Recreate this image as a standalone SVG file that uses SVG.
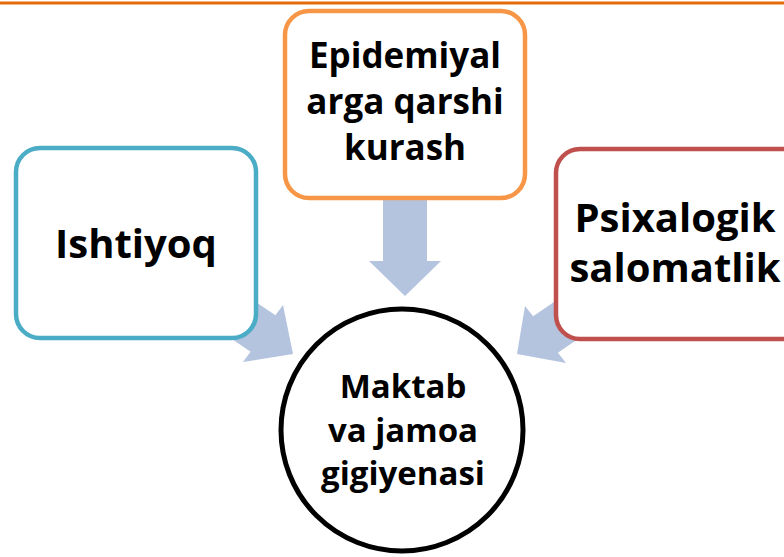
<svg xmlns="http://www.w3.org/2000/svg" width="784" height="557" viewBox="0 0 784 557">
<style>
.t{font-family:"Open Sans","Noto Sans","DejaVu Sans",sans-serif;font-weight:bold;fill:#000;text-anchor:middle}
.box{fill:#fff;stroke-width:4.5}
.arr{fill:#B4C3DE}
</style>
<rect width="784" height="557" fill="#fff"/>
<line x1="0" y1="3" x2="784" y2="3" stroke="#E46C0A" stroke-width="3"/>
<g id="connectors">
<polygon class="arr" points="383,190 427,190 427,261 441,261 405,296 369,261 383,261"/>
<polygon class="arr" points="201,318 226,282 275.4,315.3 283,305 293,354 243,362 250.6,351.7"/>
<polygon class="arr" points="607.4,318.8 582.6,282.4 533.1,316.3 525,306 517,354 566,363 557.9,352.7"/>
</g>
<g id="node-top">
<rect class="box" x="285" y="11" width="240" height="187" rx="24" stroke="#F79646"/>
<text class="t" x="405" y="68" font-size="35">Epidemiyal</text>
<text class="t" x="405" y="114" font-size="35">arga qarshi</text>
<text class="t" x="405" y="160" font-size="35">kurash</text>
</g>
<g id="node-left">
<rect class="box" x="16" y="148" width="240" height="190" rx="24" stroke="#4BACC6"/>
<text class="t" x="136" y="258" font-size="40">Ishtiyoq</text>
</g>
<g id="node-right">
<rect class="box" x="556" y="149" width="250" height="190" rx="24" stroke="#C0504D"/>
<text class="t" x="675" y="232" font-size="40">Psixalogik</text>
<text class="t" x="675" y="282" font-size="40">salomatlik</text>
</g>
<g id="node-center">
<circle cx="402" cy="430" r="121" fill="#fff" stroke="#000" stroke-width="5"/>
<text class="t" x="403" y="398" font-size="33">Maktab</text>
<text class="t" x="403" y="442" font-size="33">va jamoa</text>
<text class="t" x="403" y="485" font-size="33">gigiyenasi</text>
</g>
</svg>
